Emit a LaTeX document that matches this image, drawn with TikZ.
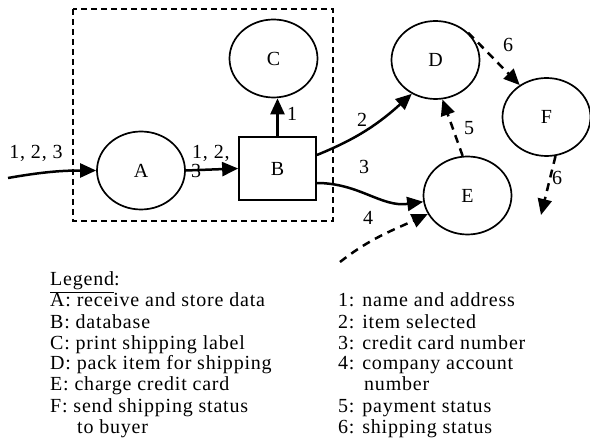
\documentclass[tikz,border=0pt]{standalone}
\usepackage{fontspec}
\setmainfont{Liberation Serif}[LetterSpace=4]
\usetikzlibrary{shapes.geometric,arrows.meta}
\begin{document}
\begin{tikzpicture}[x=1pt,y=-1pt,
  proc/.style={draw,ellipse,line width=1.7pt,minimum width=88pt,minimum height=78pt,inner sep=0pt,font=\fontsize{20}{22}\selectfont},
  store/.style={draw,rectangle,line width=1.7pt,minimum width=77pt,minimum height=63pt,inner sep=0pt,font=\fontsize{20}{22}\selectfont},
  flow/.style={line width=2.5pt,-{Triangle[length=16pt,width=14pt]}},
  dflow/.style={flow,dash pattern=on 8pt off 6pt},
  lab/.style={font=\fontsize{20}{20}\selectfont,inner sep=0pt},
  leg/.style={anchor=base west,inner sep=0pt,font=\fontsize{20}{21}\selectfont}]
\useasboundingbox (0,0) rectangle (590,441);
% system boundary
\draw[line width=1.6pt,dash pattern=on 6pt off 4pt] (73,9) rectangle (333,221);
% processes and store
\node[proc] (C) at (273.5,58.5) {C};
\node[proc] (A) at (141,170.5) {A};
\node[store] (B) at (277.5,168.5) {B};
\node[proc] (D) at (435.5,60) {D};
\node[proc] (F) at (546.5,117) {F};
\node[proc] (E) at (467.5,195.5) {E};
% free ends
\coordinate (in) at (8,178);
\coordinate (src4) at (340,262);
\coordinate (out6) at (541,215);
% data flows
\draw[flow] (in) to[out=10,in=180] (A.west);
\node[lab] at (36,153) {1, 2, 3};
\draw[flow] (A.east) -- (B.west);
\node[lab,anchor=base west] at (192,159) {1, 2,};
\node[lab,anchor=base west] at (191,178) {3};
\draw[flow] (B.north) -- (B.north |- C.south);
\node[lab] at (292,114) {1};
\draw[flow] (B.east |- 0,155) to[out=22,in=222] (D.235);
\node[lab] at (362,120) {2};
\draw[flow] (B.east |- 0,183) to[out=0,in=188] (E.188);
\node[lab] at (364,167) {3};
\draw[dflow] (src4) to[out=38,in=205] (E.205);
\node[lab] at (368,218) {4};
\draw[dflow] (E.97) -- (D.280);
\node[lab] at (469,128) {5};
\draw[dflow] (D.40) -- (F.130);
\node[lab] at (508,45) {6};
\draw[dflow] (F.283) -- (out6);
\node[lab] at (557,178) {6};
% legend
\node[leg] at (50,286) {\underline{Legend}:};
\node[leg] at (50,307) {A: receive and store data};
\node[leg] at (50,328) {B: database};
\node[leg] at (50,349) {C: print shipping label};
\node[leg] at (50,370) {D: pack item for shipping};
\node[leg] at (50,391) {E: charge credit card};
\node[leg] at (50,412) {F: send shipping status};
\node[leg] at (77,433) {to buyer};
\node[leg] at (338,307) {1: name and address};
\node[leg] at (338,328) {2: item selected};
\node[leg] at (338,349) {3: credit card number};
\node[leg] at (338,370) {4: company account};
\node[leg] at (364,391) {number};
\node[leg] at (338,412) {5: payment status};
\node[leg] at (338,433) {6: shipping status};
\end{tikzpicture}
\end{document}
